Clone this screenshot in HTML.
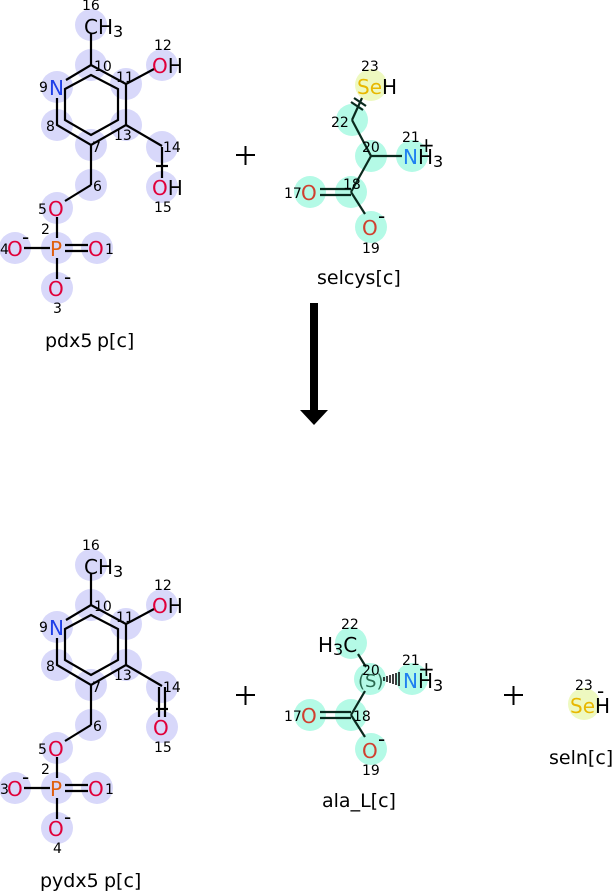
<!DOCTYPE html>
<html><head><meta charset="utf-8"><style>
html,body{margin:0;padding:0;background:#fff;}
svg{display:block;}
text{font-family:"DejaVu Sans","Liberation Sans",sans-serif;}
.n{font-size:14px;fill:#000;}
.a{font-size:20px;}
.lbl{font-size:19px;fill:#000;}
</style></head><body>
<svg width="616" height="891" viewBox="0 0 616 891" xmlns="http://www.w3.org/2000/svg">
<defs>
<g id="ring">
  <g fill="#d8d8fa">
    <circle cx="91" cy="25" r="16"/><circle cx="91" cy="65" r="16"/><circle cx="57" cy="87" r="16"/>
    <circle cx="126" cy="84" r="16"/><circle cx="57" cy="125" r="16"/><circle cx="126" cy="125" r="16"/>
    <circle cx="91" cy="145" r="16"/><circle cx="162" cy="147" r="16"/><circle cx="162" cy="187" r="16"/>
    <circle cx="162" cy="65" r="16"/><circle cx="91" cy="185" r="16"/><circle cx="57" cy="208" r="16"/>
    <circle cx="57" cy="248" r="16"/><circle cx="15" cy="248" r="16"/><circle cx="97" cy="248" r="16"/>
    <circle cx="57" cy="288" r="16"/>
  </g>
  <g stroke="#000" stroke-width="2.2" fill="none">
    <polyline points="66,80 91,65 126,84 126,125 91,145 57,125 57,98"/>
    <polygon points="65,89 91,75 118,89 118,120 91,135 65,120"/>
    <line x1="91" y1="33" x2="91" y2="65"/>
    <line x1="126" y1="84" x2="154" y2="69"/>
    <line x1="126" y1="125" x2="162" y2="146"/>
    <line x1="91" y1="145" x2="91" y2="185"/>
    <line x1="91" y1="185" x2="65" y2="201"/>
    <line x1="57" y1="217" x2="57" y2="238"/>
    <line x1="24" y1="248" x2="50" y2="248"/>
    <line x1="65" y1="245" x2="88" y2="245"/>
    <line x1="65" y1="251" x2="88" y2="251"/>
    <line x1="57" y1="258" x2="57" y2="279"/>
  </g>
  <text class="a" x="84" y="34" fill="#000">CH<tspan font-size="16" dy="3">3</tspan></text>
  <text class="n" x="82" y="10">16</text>
  <text class="n" x="94" y="71">10</text>
  <text class="a" x="49" y="95" fill="#2040e8">N</text>
  <text class="n" x="39" y="92">9</text>
  <text class="n" x="116" y="82">11</text>
  <text class="n" x="46" y="131">8</text>
  <text class="n" x="114" y="140">13</text>
  <text class="n" x="92" y="152">7</text>
  <text class="n" x="163" y="152">14</text>
  <text class="a" x="152" y="73" fill="#e0003a">O<tspan fill="#000">H</tspan></text>
  <text class="n" x="154" y="50">12</text>
  <text class="n" x="93" y="191">6</text>
  <text class="a" x="48" y="216" fill="#e0003a">O</text>
  <text class="n" x="38" y="214">5</text>
  <text class="a" x="50" y="256" fill="#e06010">P</text>
  <text class="n" x="41" y="234">2</text>
  <text class="a" x="88" y="256" fill="#e0003a">O</text>
  <text class="n" x="105" y="254">1</text>
  <text class="a" x="7" y="256" fill="#e0003a">O</text>
  <text class="a" x="22" y="244" fill="#000" font-size="16">-</text>
  <text class="a" x="48" y="296" fill="#e0003a">O</text>
  <text class="a" x="64" y="284" fill="#000" font-size="16">-</text>
</g>
</defs>

<use href="#ring"/>
<g stroke="#000" stroke-width="2.2"><line x1="162" y1="147" x2="162" y2="178"/><line x1="156" y1="166" x2="168" y2="166"/></g>
<text class="a" x="152" y="195" fill="#e0003a">O<tspan fill="#000">H</tspan></text>
<text class="n" x="154" y="212">15</text>
<text class="n" x="0" y="254">4</text>
<text class="n" x="53" y="313">3</text>
<text class="lbl" x="45" y="347">pdx5</text><text class="lbl" x="97" y="347">p[c]</text>

<g transform="translate(0,540)"><use href="#ring"/></g>
<g stroke="#000" stroke-width="2.2"><line x1="159" y1="687" x2="159" y2="717"/><line x1="165" y1="687" x2="165" y2="717"/><line x1="156" y1="709" x2="168" y2="709"/></g>
<text class="a" x="153" y="735" fill="#e0003a">O</text>
<text class="n" x="154" y="752">15</text>
<text class="n" x="0" y="794">3</text>
<text class="n" x="53" y="853">4</text>
<text class="lbl" x="40" y="887">pydx5</text><text class="lbl" x="104" y="887">p[c]</text>

<g stroke="#000" stroke-width="2">
<line x1="236" y1="155" x2="255" y2="155"/><line x1="245.5" y1="146" x2="245.5" y2="165"/>
<line x1="236" y1="695" x2="255" y2="695"/><line x1="245.5" y1="686" x2="245.5" y2="705"/>
<line x1="504" y1="695" x2="523" y2="695"/><line x1="513.5" y1="686" x2="513.5" y2="705"/>
</g>

<circle cx="371" cy="85" r="16" fill="#eef9c0"/>
<g fill="#b4fae6">
<circle cx="352" cy="120" r="16"/><circle cx="371" cy="156" r="16"/><circle cx="412" cy="156" r="16"/>
<circle cx="351" cy="192" r="16"/><circle cx="310" cy="192" r="16"/><circle cx="371" cy="227" r="16"/>
</g>
<g stroke="#0a2a1e" stroke-width="2.2" fill="none">
<line x1="362" y1="98" x2="352" y2="120"/><line x1="354" y1="98" x2="366" y2="106"/><line x1="351" y1="102" x2="363" y2="110"/>
<line x1="352" y1="120" x2="371" y2="156"/>
<line x1="371" y1="156" x2="402" y2="156"/>
<line x1="371" y1="156" x2="351" y2="192"/>
<line x1="320" y1="189" x2="351" y2="189"/><line x1="320" y1="195" x2="351" y2="195"/>
<line x1="351" y1="192" x2="365" y2="214"/>
</g>
<text class="a" x="357" y="94" fill="#e8b800">Se<tspan fill="#000">H</tspan></text>
<text class="n" x="361" y="71">23</text>
<text class="n" x="331" y="127">22</text>
<text class="n" x="362" y="152">20</text>
<text class="a" x="403" y="164" fill="#2080f0">N<tspan fill="#000">H<tspan font-size="16" dy="3">3</tspan></tspan></text>
<text class="a" x="418" y="152" fill="#000" font-size="18">+</text>
<text class="n" x="402" y="142">21</text>
<text class="n" x="343" y="189">18</text>
<text class="a" x="301" y="200" fill="#d04030">O</text>
<text class="n" x="284" y="198">17</text>
<text class="a" x="362" y="235" fill="#d04030">O</text>
<text class="a" x="378" y="223" fill="#000" font-size="16">-</text>
<text class="n" x="362" y="253">19</text>
<text class="lbl" x="317" y="284">selcys[c]</text>

<rect x="310" y="303" width="8" height="108" fill="#000"/>
<polygon points="300,410 328,410 314,425" fill="#000"/>

<g fill="#b4fae6">
<circle cx="351" cy="643" r="16"/><circle cx="370" cy="679" r="16"/><circle cx="412" cy="679" r="16"/>
<circle cx="351" cy="715" r="16"/><circle cx="310" cy="715" r="16"/><circle cx="371" cy="749" r="16"/>
</g>
<g stroke="#0a2a1e" stroke-width="2.2" fill="none">
<line x1="358" y1="654" x2="366" y2="667"/>
<line x1="365" y1="691" x2="351" y2="715"/>
<line x1="320" y1="712" x2="351" y2="712"/><line x1="320" y1="718" x2="351" y2="718"/>
<line x1="351" y1="715" x2="365" y2="737"/>
</g>
<g stroke="#000" stroke-width="1.5">
<line x1="384" y1="677" x2="384" y2="681"/><line x1="387" y1="676" x2="387" y2="682"/><line x1="390" y1="675" x2="390" y2="683"/><line x1="393" y1="674" x2="393" y2="684"/><line x1="396" y1="673" x2="396" y2="685"/><line x1="399" y1="672" x2="399" y2="686"/>
</g>
<text class="a" x="318" y="652" fill="#000">H<tspan font-size="16" dy="3">3</tspan><tspan dy="-3">C</tspan></text>
<text class="n" x="341" y="629">22</text>
<text class="n" x="362" y="675">20</text>
<text x="358" y="687" font-size="18" fill="#2a6a50">(S)</text>
<text class="a" x="403" y="688" fill="#2080f0">N<tspan fill="#000">H<tspan font-size="16" dy="3">3</tspan></tspan></text>
<text class="a" x="418" y="676" fill="#000" font-size="18">+</text>
<text class="n" x="402" y="665">21</text>
<text class="n" x="353" y="721">18</text>
<text class="a" x="301" y="723" fill="#d04030">O</text>
<text class="n" x="284" y="721">17</text>
<text class="a" x="362" y="758" fill="#d04030">O</text>
<text class="a" x="378" y="746" fill="#000" font-size="16">-</text>
<text class="n" x="362" y="775">19</text>
<text class="lbl" x="322" y="807">ala_L[c]</text>

<circle cx="584" cy="704" r="16" fill="#eef9c0"/>
<text class="a" x="570" y="713" fill="#e8b800">Se<tspan fill="#000">H</tspan></text>
<text class="a" x="597" y="698" fill="#000" font-size="16">-</text>
<text class="n" x="575" y="690">23</text>
<text class="lbl" x="549" y="764">seln[c]</text>
</svg>
</body></html>
